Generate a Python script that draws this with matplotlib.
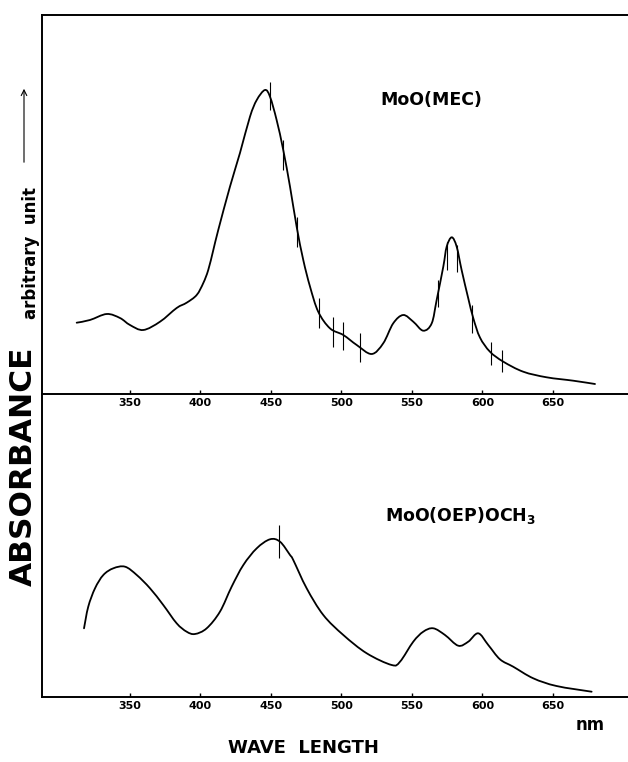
import matplotlib
matplotlib.use("Agg")
import matplotlib.pyplot as plt
from matplotlib.path import Path
from matplotlib.patches import PathPatch, FancyArrowPatch

# ---- data ----
mec_wl = [312.2, 321.6, 333.5, 342.9, 350.0, 359.4, 371.3, 383.1, 390.2, 397.3,
          402.0, 405.5, 409.1, 412.6, 420.9, 428.0, 435.1, 439.9, 445.7, 449.3,
          454.0, 458.7, 463.5, 468.2, 472.9, 477.7, 483.5, 491.8, 501.3, 510.8,
          521.4, 529.6, 536.7, 543.8, 550.9, 558.0, 564.0, 567.5, 572.2, 574.6,
          578.2, 581.7, 585.2, 589.9, 593.5, 598.2, 605.3, 614.8, 628.9, 645.5,
          664.4, 679.8]
mec_abs = [71.3, 74.0, 80.0, 76.0, 69.0, 64.0, 72.3, 86.0, 91.3, 99.0,
           111.0, 124.0, 144.0, 164.0, 207.3, 241.0, 277.3, 294.0, 304.0, 297.3,
           274.0, 244.0, 207.3, 167.3, 134.0, 107.3, 82.3, 65.7, 59.0, 49.0,
           40.0, 50.7, 70.7, 79.0, 72.3, 63.3, 70.7, 94.0, 127.3, 147.3,
           156.7, 147.3, 124.0, 95.7, 75.7, 56.5, 42.3, 32.3, 22.3, 16.7,
           13.3, 10.0]

oep_wl = [317.4, 320.4, 325.2, 331.1, 338.2, 346.5, 354.8, 364.2, 373.6, 383.1,
          390.2, 396.1, 404.4, 413.8, 422.1, 430.4, 439.9, 449.3, 456.4, 463.5,
          465.8, 475.3, 487.1, 501.3, 517.9, 535.6, 541.5, 550.9, 558.0, 565.1,
          573.4, 582.8, 589.9, 597.0, 604.1, 612.4, 621.8, 636.0, 652.5, 677.4]
oep_abs = [68.7, 90.3, 108.7, 122.0, 128.7, 130.3, 122.0, 108.7, 92.0, 73.7,
           65.3, 63.0, 68.7, 85.3, 110.3, 132.0, 148.7, 157.7, 155.3, 142.0,
           137.0, 108.7, 82.0, 62.0, 43.7, 32.0, 35.3, 55.3, 65.3, 68.7,
           62.0, 51.3, 55.3, 63.7, 52.0, 37.7, 30.3, 18.7, 11.0, 5.3]

# short vertical marks drawn across the traces (wavelength, low, high)
mec_marks_wl = [449.3, 458.7, 468.2, 484.3, 493.7, 501.3, 513.1, 568.7, 574.6, 581.7, 592.8, 606.0, 614.0]
mec_marks_lo = [284, 224, 147, 66, 47, 44, 32, 87, 124, 122, 61, 29, 22]
mec_marks_hi = [312, 254, 177, 96, 77, 72, 61, 114, 152, 149, 89, 52, 44]
oep_marks_wl = [455.9]
oep_marks_lo = [139]
oep_marks_hi = [172]

tick_vals = [350, 400, 450, 500, 550, 600, 650]
tick_labels = ["350", "400", "450", "500", "550", "600", "650"]

label_top = "MoO(MEC)"
label_bottom = r"MoO(OEP)OCH$_\mathregular{3}$"


def smooth_path(xs, ys):
    """Bezier path (Catmull-Rom control points) through the data points."""
    pts = list(zip(xs, ys))
    n = len(pts)
    verts = [pts[0]]
    codes = [Path.MOVETO]
    for i in range(n - 1):
        p0 = pts[max(i - 1, 0)]
        p1 = pts[i]
        p2 = pts[i + 1]
        p3 = pts[min(i + 2, n - 1)]
        c1 = (p1[0] + (p2[0] - p0[0]) / 6.0, p1[1] + (p2[1] - p0[1]) / 6.0)
        c2 = (p2[0] - (p3[0] - p1[0]) / 6.0, p2[1] - (p3[1] - p1[1]) / 6.0)
        verts += [c1, c2, p2]
        codes += [Path.CURVE4] * 3
    return Path(verts, codes)


# ---- figure ----
W, H = 628, 762
fig = plt.figure(figsize=(W / 100, H / 100), dpi=100)
fig.patch.set_facecolor("white")

left = 42 / W
mid = 1 - 394 / H
top = 1 - 15 / H
bot = 1 - 697 / H

ax1 = fig.add_axes([left, mid, 1 - left, top - mid])
ax2 = fig.add_axes([left, bot, 1 - left, mid - bot])

xlim = (287.6, 703.2)
tfont = dict(family="DejaVu Sans", weight="bold", size=8)

for ax, wl, ab, ylim, mw, ml, mh in [
    (ax1, mec_wl, mec_abs, (0, 379), mec_marks_wl, mec_marks_lo, mec_marks_hi),
    (ax2, oep_wl, oep_abs, (0, 303), oep_marks_wl, oep_marks_lo, oep_marks_hi),
]:
    ax.add_patch(PathPatch(smooth_path(wl, ab), facecolor="none",
                           edgecolor="black", lw=1.3, capstyle="round",
                           joinstyle="round"))
    ax.vlines(mw, ml, mh, color="black", lw=0.8)
    ax.set_xlim(*xlim)
    ax.set_ylim(*ylim)
    ax.set_yticks([])
    ax.set_xticks(tick_vals)
    ax.set_xticklabels(tick_labels, fontdict=tfont)
    ax.tick_params(axis="x", direction="in", length=3, width=1, pad=3)
    ax.spines["right"].set_visible(False)
    for s in ["left", "top", "bottom"]:
        ax.spines[s].set_linewidth(1.4)
    ax.set_facecolor("none")

ax2.spines["top"].set_visible(False)

fig.text(380 / W, 1 - 100 / H, label_top, family="DejaVu Sans", weight="bold",
         fontsize=12.5, ha="left", va="center")
fig.text(385 / W, 1 - 515 / H, label_bottom, family="DejaVu Sans", weight="bold",
         fontsize=12.5, ha="left", va="center")

fig.text(23 / W, 1 - 466 / H, "ABSORBANCE", family="DejaVu Sans", weight="bold",
         fontsize=22.5, rotation=90, ha="center", va="center")
fig.text(31 / W, 1 - 253 / H, "arbitrary  unit", family="DejaVu Sans", weight="bold",
         fontsize=12, rotation=90, ha="center", va="center")
fig.add_artist(FancyArrowPatch(
    (24 / W, 1 - 165 / H), (24 / W, 1 - 86 / H), transform=fig.transFigure,
    arrowstyle="->,head_length=4,head_width=2", lw=0.8, color="black"))

fig.text(590 / W, 1 - 725 / H, "nm", family="DejaVu Sans", weight="bold",
         fontsize=12, ha="center", va="center")
fig.text(303 / W, 1 - 748 / H, "WAVE  LENGTH",
         family="DejaVu Sans", weight="bold", fontsize=13, ha="center", va="center")

fig.savefig("out.png", dpi=100, facecolor="white")
